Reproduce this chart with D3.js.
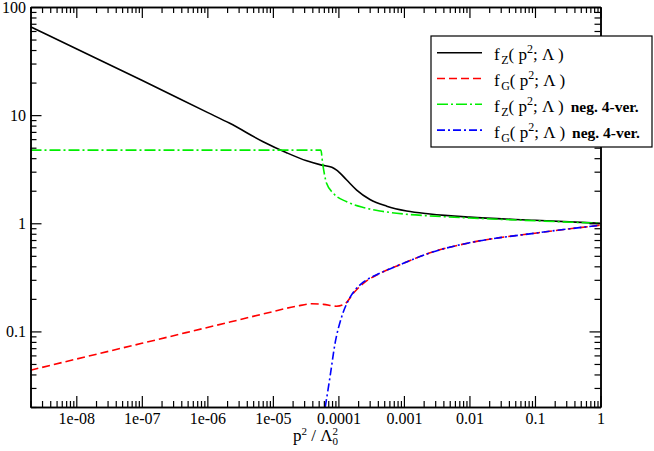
<!DOCTYPE html>
<html>
<head>
<meta charset="utf-8">
<script src="https://cdn.jsdelivr.net/npm/d3@7"></script>
<style>
  html, body { margin: 0; padding: 0; background: #fff; }
  svg { display: block; }
</style>
</head>
<body>
<svg id="chart" width="654" height="451"></svg>
<script>
// ---- data ----
const xTickValues = [1e-8, 1e-7, 1e-6, 1e-5, 1e-4, 1e-3, 1e-2, 1e-1, 1];
const xTickLabels = ["1e-08", "1e-07", "1e-06", "1e-05", "0.0001", "0.001", "0.01", "0.1", "1"];
const yTickValues = [0.1, 1, 10, 100];
const yTickLabels = ["0.1", "1", "10", "100"];

// f_Z(p^2; Λ)  (black, solid)
const fZ_x = [2e-9, 1e-8, 1e-7, 1e-6, 2.2e-6, 7.1e-6, 1.62e-5, 3.28e-5, 5.56e-5, 7.94e-5, 9.4e-5, 1.34e-4, 1.9e-4, 3.03e-4, 5.46e-4, 1.1e-3, 2.5e-3, 1e-2, 1e-1, 1];
const fZ_y = [65.7, 41.1, 21.0, 10.6, 8.4, 5.68, 4.49, 3.78, 3.45, 3.29, 3.10, 2.51, 2.03, 1.66, 1.44, 1.30, 1.22, 1.14, 1.065, 1.0];

// f_G(p^2; Λ)  (red, dashed)
const fG_x = [2e-9, 1e-8, 1e-7, 1e-6, 2.2e-6, 7.1e-6, 2.3e-5, 3.9e-5, 5.9e-5, 9.4e-5, 1.26e-4, 1.69e-4, 2.4e-4, 4.3e-4, 9.8e-4, 2.5e-3, 1e-2, 1e-1, 1];
const fG_y = [0.0438, 0.0555, 0.0776, 0.1087, 0.122, 0.145, 0.171, 0.180, 0.178, 0.171, 0.180, 0.225, 0.278, 0.344, 0.426, 0.533, 0.66, 0.81, 0.96];

// f_Z(p^2; Λ) neg. 4-ver.  (green, dash-dot)
const fZn_x = [2e-9, 5.4e-5, 5.75e-5, 6.6e-5, 8.4e-5, 1.34e-4, 2.4e-4, 4.3e-4, 9.8e-4, 2.5e-3, 1e-2, 1e-1, 1];
const fZn_y = [4.75, 4.75, 3.58, 2.34, 1.89, 1.58, 1.40, 1.30, 1.22, 1.17, 1.12, 1.055, 1.0];

// f_G(p^2; Λ) neg. 4-ver.  (blue, dash-dot)
const fGn_x = [6.3e-5, 7.45e-5, 8.87e-5, 1.12e-4, 1.42e-4, 1.79e-4, 2.4e-4, 4.3e-4, 9.8e-4, 2.5e-3, 1e-2, 1e-1, 1];
const fGn_y = [0.02, 0.038, 0.077, 0.136, 0.194, 0.241, 0.285, 0.345, 0.426, 0.533, 0.66, 0.81, 0.96];

// ---- layout ----
const L = 30.5, R = 600.5, T = 7, B = 407;
const FONT = '"Liberation Serif"';

const svg = d3.select("#chart");
const x = d3.scaleLog().domain([2e-9, 1]).range([L, R]);
const y = d3.scaleLog().domain([0.02, 100]).range([B, T]);

function minorTicks(scale) {
  const [a, b] = scale.domain();
  const out = [];
  for (let e = Math.floor(Math.log10(a)); e <= Math.ceil(Math.log10(b)); e++) {
    for (let k = 2; k <= 9; k++) {
      const v = k * Math.pow(10, e);
      if (v >= a * 0.999 && v <= b * 1.001) out.push(v);
    }
  }
  return out;
}
const xMinor = minorTicks(x), yMinor = minorTicks(y);

function styleAxis(g) {
  g.attr("font-family", null).attr("font-size", 16);
  g.selectAll("path.domain").attr("stroke", "#000").attr("stroke-width", 1.5);
  g.selectAll(".tick line").attr("stroke", "#000").attr("stroke-width", 1.2);
  g.selectAll(".tick text").attr("fill", "#000").style("font-family", FONT).style("font-size", "16px");
}

// clip
svg.append("defs").append("clipPath").attr("id", "clip")
  .append("rect").attr("x", L).attr("y", T).attr("width", R - L).attr("height", B - T);

// ---- curves ----
const line = d3.line().x(d => x(d[0])).y(d => y(d[1])).curve(d3.curveMonotoneX);
const series = [
  { xs: fZ_x, ys: fZ_y, color: "#000000", dash: null },
  { xs: fG_x, ys: fG_y, color: "#ff0000", dash: "8,4" },
  { xs: fZn_x, ys: fZn_y, color: "#00ee00", dash: "11,3,2,3" },
  { xs: fGn_x, ys: fGn_y, color: "#0000ff", dash: "8,3,2,3" }
];
const curves = svg.append("g").attr("clip-path", "url(#clip)");
series.forEach(s => {
  curves.append("path")
    .attr("d", line(s.xs.map((v, i) => [v, s.ys[i]])))
    .attr("fill", "none")
    .attr("stroke", s.color)
    .attr("stroke-width", 1.6)
    .attr("stroke-dasharray", s.dash);
});

// ---- axes ----
const MAJ = 11, MIN = 6;
// bottom
svg.append("g").attr("transform", `translate(0,${B})`)
  .call(d3.axisBottom(x).tickValues(xMinor).tickSizeInner(-MIN).tickSizeOuter(0).tickFormat(""))
  .call(styleAxis);
const gb = svg.append("g").attr("transform", `translate(0,${B})`)
  .call(d3.axisBottom(x).tickValues(xTickValues).tickSizeInner(-MAJ).tickSizeOuter(0)
    .tickPadding(5).tickFormat((d, i) => xTickLabels[i]))
  .call(styleAxis);
gb.selectAll(".tick text").attr("dy", null).attr("y", 16.5);
// top
svg.append("g").attr("transform", `translate(0,${T})`)
  .call(d3.axisTop(x).tickValues(xMinor).tickSizeInner(-MIN).tickSizeOuter(0).tickFormat(""))
  .call(styleAxis);
svg.append("g").attr("transform", `translate(0,${T})`)
  .call(d3.axisTop(x).tickValues(xTickValues).tickSizeInner(-MAJ).tickSizeOuter(0).tickFormat(""))
  .call(styleAxis);
// left
svg.append("g").attr("transform", `translate(${L},0)`)
  .call(d3.axisLeft(y).tickValues(yMinor).tickSizeInner(-MIN).tickSizeOuter(0).tickFormat(""))
  .call(styleAxis);
svg.append("g").attr("transform", `translate(${L},0)`)
  .call(d3.axisLeft(y).tickValues(yTickValues).tickSizeInner(-MAJ).tickSizeOuter(0)
    .tickPadding(4.5).tickFormat((d, i) => yTickLabels[i]))
  .call(styleAxis);
// right
svg.append("g").attr("transform", `translate(${R},0)`)
  .call(d3.axisRight(y).tickValues(yMinor).tickSizeInner(-MIN).tickSizeOuter(0).tickFormat(""))
  .call(styleAxis);
svg.append("g").attr("transform", `translate(${R},0)`)
  .call(d3.axisRight(y).tickValues(yTickValues).tickSizeInner(-MAJ).tickSizeOuter(0).tickFormat(""))
  .call(styleAxis);

// ---- x-axis title: p^2 / Λ_0^2 ----
const title = svg.append("text")
  .attr("x", (L + R) / 2).attr("y", 441)
  .attr("text-anchor", "middle")
  .style("font-family", FONT).style("font-size", "17px").attr("fill", "#000");
title.append("tspan").text("p");
title.append("tspan").style("font-size", "11px").attr("dy", -6).text("2");
title.append("tspan").attr("dy", 6).text(" / Λ");
title.append("tspan").style("font-size", "11px").attr("dy", 4).text("0");
title.append("tspan").style("font-size", "11px").attr("dx", -5.5).attr("dy", -10).text("2");

// ---- legend ----
const legendLabels = ["Z", "G", "Z", "G"];
const legendExtra = ["", "", "neg. 4-ver.", "neg. 4-ver."];
const lg = svg.append("g");
lg.append("rect").attr("x", 431).attr("y", 36).attr("width", 221).attr("height", 111)
  .attr("fill", "#fff").attr("stroke", "#000").attr("stroke-width", 1.2);
series.forEach((s, i) => {
  const ly = 52.7 + i * 25.8;
  lg.append("line").attr("x1", 437).attr("x2", 482).attr("y1", ly).attr("y2", ly)
    .attr("stroke", s.color).attr("stroke-width", 1.6).attr("stroke-dasharray", s.dash);
  const t = lg.append("text").attr("x", 494).attr("y", ly + 7.5)
    .style("font-family", FONT).style("font-size", "17px").attr("fill", "#000")
    .attr("xml:space", "preserve");
  t.append("tspan").text("f");
  t.append("tspan").style("font-size", "12px").attr("dx", 1.5).attr("dy", 4).text(legendLabels[i]);
  t.append("tspan").attr("dy", -4).text("( p");
  t.append("tspan").style("font-size", "12px").attr("dy", -7).text("2");
  t.append("tspan").attr("dy", 7).text("; Λ )");
  if (legendExtra[i]) {
    t.append("tspan").style("font-weight", "bold").style("font-size", "15.5px").attr("dx", 7).text(legendExtra[i]);
  }
});
</script>
</body>
</html>
